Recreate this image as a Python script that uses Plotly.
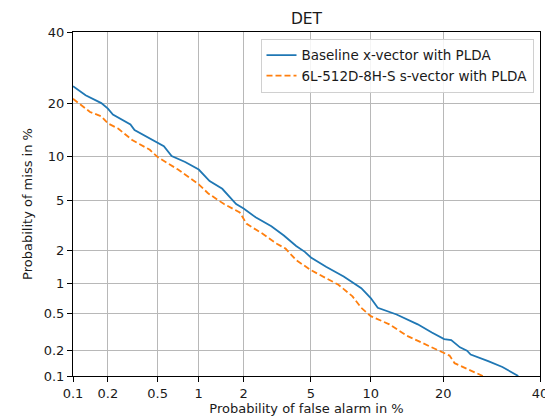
import plotly.graph_objects as go
from statistics import NormalDist

nd = NormalDist()
def probit(pct):
    return [nd.inv_cdf(v / 100.0) for v in pct]

tick_vals_pct = [0.1, 0.2, 0.5, 1, 2, 5, 10, 20, 40]
tick_text = ["0.1", "0.2", "0.5", "1", "2", "5", "10", "20", "40"]

# Baseline x-vector with PLDA (false alarm %, miss %)
base_fa = [0.1, 0.129, 0.176, 0.2, 0.22, 0.306, 0.33, 0.5, 0.557, 0.637, 0.80, 1.0, 1.19, 1.45,
           1.79, 2.0, 2.38, 2.97, 3.52, 4.14, 4.63, 5.0, 6.02, 7.41, 9.03, 10.0, 10.77, 13.04,
           15.96, 18.13, 20.17, 21.4, 22.98, 24.3, 25.0, 28.5, 31.5, 35.0]
base_miss = [24.2, 21.9, 20.05, 18.8, 17.5, 15.5, 14.4, 12.1, 11.6, 10.1, 9.25, 8.26, 6.9, 6.1,
             4.72, 4.38, 3.74, 3.18, 2.67, 2.18, 1.94, 1.73, 1.43, 1.16, 0.90, 0.72, 0.573, 0.49,
             0.386, 0.315, 0.267, 0.26, 0.216, 0.198, 0.179, 0.150, 0.128, 0.1]

# 6L-512D-8H-S s-vector with PLDA
svec_fa = [0.1, 0.141, 0.176, 0.2, 0.243, 0.316, 0.435, 0.5, 0.71, 1.0, 1.16, 1.49, 1.89, 2.09,
           2.63, 3.20, 3.60, 4.14, 5.0, 6.97, 8.19, 9.03, 10.0, 12.13, 14.44, 17.02, 20.0, 21.1,
           22.0, 24.3, 27.4]
svec_miss = [21.06, 18.06, 17.15, 15.69, 14.7, 12.63, 11.03, 9.94, 8.26, 6.55, 5.67, 4.72, 4.08,
             3.32, 2.76, 2.28, 2.07, 1.64, 1.33, 0.97, 0.748, 0.573, 0.471, 0.386, 0.29, 0.235,
             0.19, 0.174, 0.142, 0.122, 0.1]

font_family = "DejaVu Sans"
txt = "#1a1a1a"

fig = go.Figure()
fig.add_trace(go.Scatter(x=probit(base_fa), y=probit(base_miss), mode="lines",
                         name="Baseline x-vector with PLDA",
                         line=dict(color="#1f77b4", width=1.8)))
fig.add_trace(go.Scatter(x=probit(svec_fa), y=probit(svec_miss), mode="lines",
                         name="6L-512D-8H-S s-vector with PLDA",
                         line=dict(color="#ff7f0e", width=1.8, dash="6px,3px")))

rng = probit([0.1, 40])
axis_common = dict(
    range=rng, tickmode="array", tickvals=probit(tick_vals_pct), ticktext=tick_text,
    showgrid=True, gridcolor="#b8b8b8", gridwidth=1, zeroline=False,
    showline=True, linecolor="black", linewidth=1, mirror=True,
    ticks="outside", ticklen=5, tickcolor="black",
    tickfont=dict(family=font_family, size=13, color=txt),
)

L, R, T, B = 65, 532, 24, 373
W, H = 553, 417

fig.update_layout(
    width=W, height=H,
    margin=dict(l=L, r=W - R, t=T, b=H - B),
    paper_bgcolor="white", plot_bgcolor="white",
    title=dict(text="DET", x=(L + R) / 2 / W, xanchor="center", y=1 - 11 / H, yanchor="middle",
               font=dict(family=font_family, size=15.5, color=txt)),
    xaxis=dict(axis_common, title=dict(text="Probability of false alarm in %", standoff=3,
                                       font=dict(family=font_family, size=13, color=txt))),
    yaxis=dict(axis_common, title=dict(text="Probability of miss in %", standoff=8,
                                       font=dict(family=font_family, size=13, color=txt))),
    legend=dict(x=(525.5 - L) / (R - L), y=1 - 7 / (B - T), xanchor="right", yanchor="top",
                bgcolor="rgba(255,255,255,0.85)", bordercolor="#d0d0d0", borderwidth=1,
                font=dict(family=font_family, size=13.5, color=txt),
                itemwidth=30, tracegroupgap=0),
    showlegend=True,
)

fig.write_html("out.html")
